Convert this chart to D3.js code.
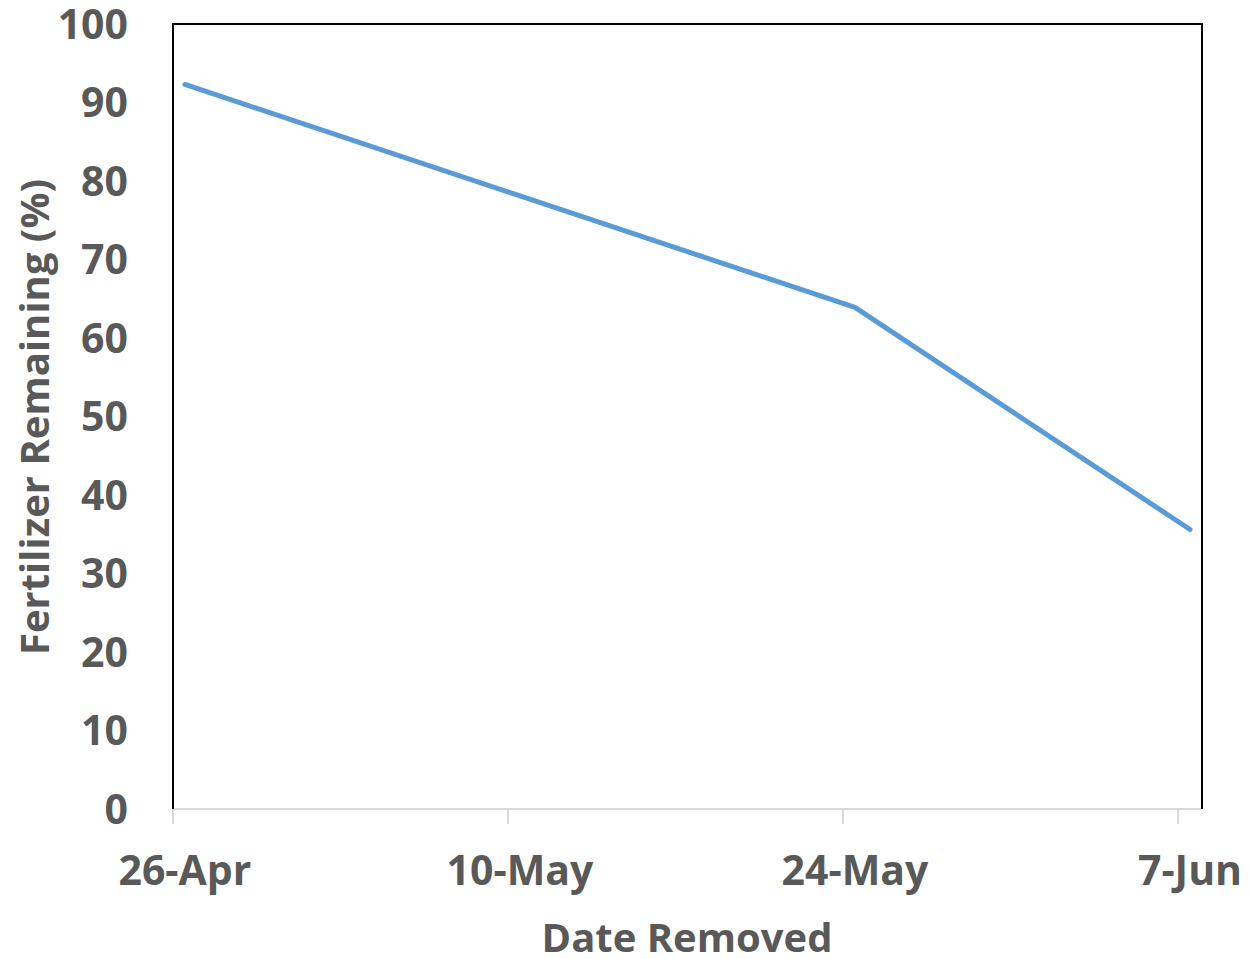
<!DOCTYPE html>
<html>
<head>
<meta charset="utf-8">
<script src="https://cdn.jsdelivr.net/npm/d3@7"></script>
<style>
html,body{margin:0;padding:0;background:#fff;}
svg text{font-family:"Open Sans",sans-serif;font-weight:bold;fill:#595959;}
</style>
</head>
<body>
<svg id="chart" width="1249" height="959"></svg>
<script>
// Data
const dates = ["2016-04-26", "2016-05-24", "2016-06-07"];
const remaining = [92.3, 63.9, 35.6];
const xTickDates = ["2016-04-26", "2016-05-10", "2016-05-24", "2016-06-07"];
const xTickLabels = ["26-Apr", "10-May", "24-May", "7-Jun"];
const yTicks = [0, 10, 20, 30, 40, 50, 60, 70, 80, 90, 100];

(function () {
const svg = d3.select("#chart");
const pLeft = 173, pRight = 1202, pTop = 24, pBottom = 809;
const parse = d3.utcParse("%Y-%m-%d");
const halfDay = 12 * 3600 * 1000;

const x = d3.scaleUtc()
  .domain([parse("2016-04-26"), parse("2016-06-08")])
  .range([pLeft, pRight]);
const y = d3.scaleLinear().domain([0, 100]).range([pBottom, pTop]);

// bottom axis line
svg.append("line").attr("x1", pLeft).attr("x2", pRight).attr("y1", pBottom).attr("y2", pBottom)
  .attr("stroke", "#d9d9d9").attr("stroke-width", 2);

// x tick marks
svg.append("g").selectAll("line").data(xTickDates).join("line")
  .attr("x1", d => x(parse(d))).attr("x2", d => x(parse(d)))
  .attr("y1", pBottom).attr("y2", pBottom + 15)
  .attr("stroke", "#d9d9d9").attr("stroke-width", 2);

// x labels
svg.append("g").selectAll("text").data(xTickDates).join("text")
  .attr("x", d => x(new Date(parse(d).getTime() + halfDay)))
  .attr("y", 885)
  .attr("text-anchor", "middle")
  .attr("font-size", 41)
  .text((d, i) => xTickLabels[i]);

// y labels
svg.append("g").selectAll("text").data(yTicks).join("text")
  .attr("x", 128)
  .attr("y", d => y(d))
  .attr("dy", "0.36em")
  .attr("text-anchor", "end")
  .attr("font-size", 41)
  .text(d => d);

// plot border (top, left, right black)
svg.append("path")
  .attr("d", `M${pLeft},${pBottom} L${pLeft},${pTop} L${pRight},${pTop} L${pRight},${pBottom}`)
  .attr("fill", "none").attr("stroke", "#000").attr("stroke-width", 2);

// line
const line = d3.line()
  .x(d => x(new Date(parse(d.date).getTime() + halfDay)))
  .y(d => y(d.v));
svg.append("path")
  .datum(dates.map((d, i) => ({date: d, v: remaining[i]})))
  .attr("d", line)
  .attr("fill", "none").attr("stroke", "#5b9bd5").attr("stroke-width", 5)
  .attr("stroke-linecap", "round").attr("stroke-linejoin", "round");

// axis titles
svg.append("text").attr("x", 687).attr("y", 952).attr("text-anchor", "middle")
  .attr("font-size", 40).text("Date Removed");
svg.append("text").attr("transform", "translate(49,417) rotate(-90)")
  .attr("text-anchor", "middle").attr("font-size", 40).text("Fertilizer Remaining (%)");
})();
</script>
</body>
</html>
